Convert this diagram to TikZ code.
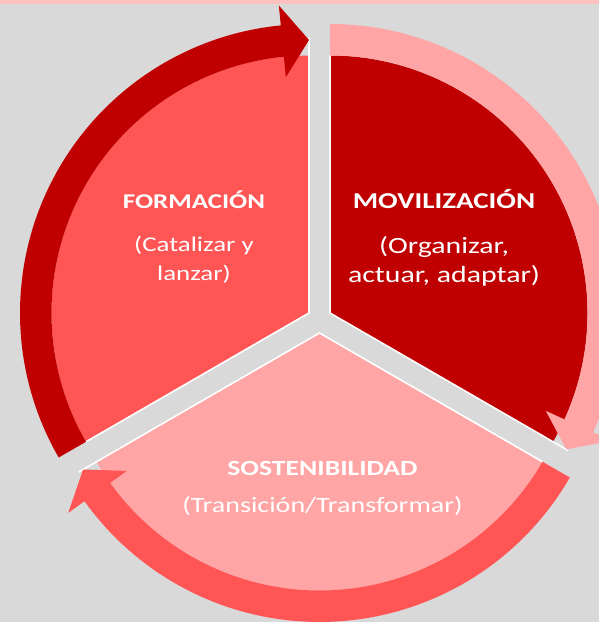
\documentclass[tikz,border=0pt]{standalone}
\usepackage{fontspec}
\setmainfont{Carlito}[FakeStretch=1.28]
\usetikzlibrary{positioning, calc}
\definecolor{bggray}{RGB}{217,217,217}
\definecolor{stripe}{RGB}{255,192,192}
\definecolor{darkred}{RGB}{192,0,0}
\definecolor{salmon}{RGB}{255,85,85}
\definecolor{rose}{RGB}{255,165,165}
\tikzset{
  edgeline/.style={white, line width=1.6pt},
  ttl/.style={text=white, font=\bfseries, align=center, inner sep=0pt, anchor=base},
  sub/.style={text=white, align=center, inner sep=0pt},
}

\begin{document}
\begin{tikzpicture}[x=1pt, y=1pt]
        \useasboundingbox (0,0) rectangle (599,622);
        \clip (0,0) rectangle (599,622);
        \fill[bggray] (0,0) rectangle (599,622);
        \fill[stripe] (0,618) rectangle (599,622);
        % segment centres (exploded pie)
        \coordinate (L) at (309,309);
        \coordinate (R) at (330,309);
        \coordinate (B) at (319.5,289);
        % segments
        \fill[salmon, shift={(L)}] (0,0) -- (90:257.5) arc[start angle=90, end angle=210, radius=257.5] -- cycle;
        \fill[darkred, shift={(R)}] (0,0) -- (-30:257.5) arc[start angle=-30, end angle=90, radius=257.5] -- cycle;
        \fill[rose, shift={(B)}] (0,0) -- (210:257.5) arc[start angle=210, end angle=330, radius=257.5] -- cycle;
        \draw[edgeline, shift={(L)}] (90:275) -- (0,0) -- (210:257.5);
        \draw[edgeline, shift={(R)}] (-30:275) -- (0,0) -- (90:257.5);
        \draw[edgeline, shift={(B)}] (210:278) -- (0,0) -- (330:257.5);
        % circular arrows
        \fill[darkred, shift={(L)}] (210:257.5) arc[start angle=210, end angle=95.6, radius=257.5]
          -- (95.6:237) -- (90:273) -- (95.6:309) -- (95.6:289)
          arc[start angle=95.6, end angle=210, radius=289] -- cycle;
        \fill[rose, shift={(R)}] (90:257.5) arc[start angle=90, end angle=-24.4, radius=257.5]
          -- (-24.4:237) -- (-30:273) -- (-24.4:309) -- (-24.4:289)
          arc[start angle=-24.4, end angle=90, radius=289] -- cycle;
        \fill[salmon, shift={(B)}] (-30:257.5) arc[start angle=-30, end angle=-144.4, radius=257.5]
          -- (-144.4:237) -- (-150:273) -- (-144.4:309) -- (-144.4:289)
          arc[start angle=-144.4, end angle=-30, radius=289] -- cycle;
        % labels
        \node[ttl, font=\fontsize{21}{25}\selectfont\bfseries] (form) at (194,413.7) {FORMACIÓN};
        \node[sub, font=\fontsize{21}{28.5}\selectfont, below=72pt of form.base, anchor=base] (formsub) {(Catalizar y\\lanzar)};
        \node[ttl, font=\fontsize{22.7}{27}\selectfont\bfseries] (movi) at (444,413.7) {MOVILIZACIÓN};
        \node[sub, font=\fontsize{23.3}{29}\selectfont, below=74pt of movi.base, anchor=base] (movisub) {(Organizar,\\actuar, adaptar)};
        \node[ttl, font=\fontsize{21.6}{26}\selectfont\bfseries] (sost) at (322.5,146) {SOSTENIBILIDAD};
        \node[sub, font=\fontsize{21.9}{26}\selectfont, below=37pt of sost.base, anchor=base] (sostsub) {(Transición/Transformar)};
      \end{tikzpicture}
\end{document}
